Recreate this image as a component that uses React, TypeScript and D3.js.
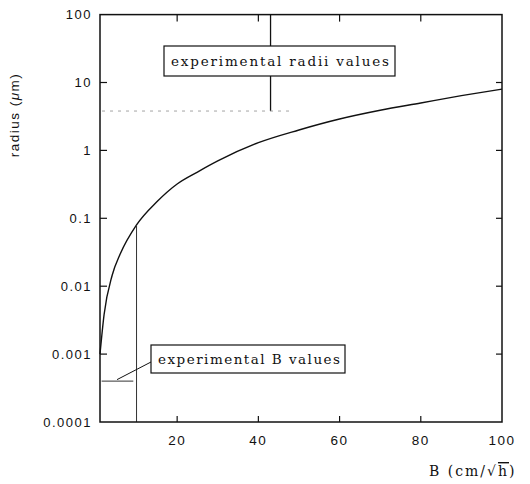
import React from "react";
import * as d3 from "d3";

const B_VALUES = [1, 2, 4, 6, 10, 15, 20, 25, 30, 40, 50, 60, 70, 80, 90, 100];
const RADIUS = [0.001, 0.0038, 0.0145, 0.03, 0.08, 0.175, 0.32, 0.48, 0.7, 1.3, 2.0, 2.9, 3.9, 5.0, 6.4, 8.0];

const X_TICKS = [20, 40, 60, 80, 100];
const X_INNER_TICKS = [20, 40, 60, 80];
const Y_TICKS = [100, 10, 1, 0.1, 0.01, 0.001, 0.0001];
const Y_TICK_LABELS = ["100", "10", "1", "0.1", "0.01", "0.001", "0.0001"];

// annotation values
const RADII_B = 43;
const RADII_LEVEL = 3.8;
const RADII_DASH_END = 48;
const B_EXP = 10;
const B_LEVEL = 0.0004;
const B_RANGE = [1.4, 9.2];
const B_LEADER_AT = 5.2;

const W = 530;
const H = 484;

export default function App() {
  const x = d3.scaleLinear().domain([1, 100]).range([100, 502]);
  const y = d3.scaleLog().domain([1e-4, 100]).range([422, 14.6]);

  const line = d3
    .line<number>()
    .x((d, i) => x(B_VALUES[i]))
    .y((d) => y(d))
    .curve(d3.curveMonotoneX);

  const curveAt = (b: number) => {
    const i = d3.bisectLeft(B_VALUES, b);
    if (B_VALUES[i] === b) return RADIUS[i];
    const b0 = B_VALUES[i - 1], b1 = B_VALUES[i];
    const t = (b - b0) / (b1 - b0);
    return Math.exp(Math.log(RADIUS[i - 1]) * (1 - t) + Math.log(RADIUS[i]) * t);
  };

  const x0 = x.range()[0], x1 = x.range()[1];
  const yTop = y.range()[1], yBot = y.range()[0];
  const ink = "#111";
  const tickFont = "'Liberation Sans', Arial, sans-serif";
  const boxFont = "'DejaVu Serif', 'Liberation Serif', serif";

  const rBox = { x: 164, y: 46, w: 231, h: 30 };
  const bBox = { x: 151, y: 345, w: 194, h: 28 };

  return (
    <svg
      width={W}
      height={H}
      style={{ position: "absolute", left: 0, top: 0, background: "#fff" }}
    >
      <rect x={0} y={0} width={W} height={H} fill="#fff" />

      {/* curve */}
      <path d={line(RADIUS) || ""} fill="none" stroke={ink} strokeWidth={1.4} />

      {/* experimental radii: vertical line and dashed level */}
      <line x1={x(RADII_B)} x2={x(RADII_B)} y1={yTop} y2={rBox.y} stroke={ink} strokeWidth={1.3} />
      <line x1={x(RADII_B)} x2={x(RADII_B)} y1={rBox.y + rBox.h} y2={y(RADII_LEVEL)} stroke={ink} strokeWidth={1.3} />
      <line
        x1={x(1.5)}
        x2={x(RADII_DASH_END)}
        y1={y(RADII_LEVEL)}
        y2={y(RADII_LEVEL)}
        stroke="#999"
        strokeWidth={0.9}
        strokeDasharray="3 5"
      />

      {/* experimental B: vertical line and level */}
      <line x1={x(B_EXP)} x2={x(B_EXP)} y1={yBot} y2={y(curveAt(B_EXP))} stroke="#333" strokeWidth={1} />
      <line x1={x(B_RANGE[0])} x2={x(B_RANGE[1])} y1={y(B_LEVEL)} y2={y(B_LEVEL)} stroke="#333" strokeWidth={1} />
      <line x1={bBox.x} y1={bBox.y + 17} x2={x(B_LEADER_AT)} y2={y(B_LEVEL) - 1.5} stroke={ink} strokeWidth={1} />

      {/* boxes */}
      <rect x={rBox.x} y={rBox.y} width={rBox.w} height={rBox.h} fill="#fff" stroke={ink} strokeWidth={1.2} />
      <text
        x={rBox.x + 7}
        y={rBox.y + 20}
        fontFamily={boxFont}
        fontSize={13.5}
        textLength={218}
        lengthAdjust="spacing"
        fill={ink}
      >
        experimental radii values
      </text>
      <rect x={bBox.x} y={bBox.y} width={bBox.w} height={bBox.h} fill="#fff" stroke={ink} strokeWidth={1.2} />
      <text
        x={bBox.x + 7}
        y={bBox.y + 19}
        fontFamily={boxFont}
        fontSize={13.5}
        textLength={182}
        lengthAdjust="spacing"
        fill={ink}
      >
        experimental B values
      </text>

      {/* frame */}
      <rect x={x0} y={yTop} width={x1 - x0} height={yBot - yTop} fill="none" stroke={ink} strokeWidth={1.5} />

      {/* x ticks (inward bottom and top) */}
      {X_INNER_TICKS.map((t) => (
        <g key={"xt" + t}>
          <line x1={x(t)} x2={x(t)} y1={yBot} y2={yBot - 6} stroke={ink} strokeWidth={1.2} />
          <line x1={x(t)} x2={x(t)} y1={yTop} y2={yTop + 7} stroke={ink} strokeWidth={1.2} />
        </g>
      ))}
      {X_TICKS.map((t) => (
        <text
          key={"xl" + t}
          x={x(t)}
          y={445}
          textAnchor="middle"
          fontFamily={tickFont}
          fontSize={13.5}
          letterSpacing={1.5}
          fill={ink}
        >
          {String(t)}
        </text>
      ))}

      {/* y ticks (inward left and right) */}
      {Y_TICKS.map((t, i) => (
        <g key={"yt" + t}>
          {i > 0 && i < Y_TICKS.length - 1 && (
            <>
              <line x1={x0} x2={x0 + 7} y1={y(t)} y2={y(t)} stroke={ink} strokeWidth={1.2} />
              <line x1={x1} x2={x1 - 6} y1={y(t)} y2={y(t)} stroke={ink} strokeWidth={1.2} />
            </>
          )}
          <text
            x={92}
            y={y(t)}
            dy="0.35em"
            textAnchor="end"
            fontFamily={tickFont}
            fontSize={13}
            letterSpacing={1.5}
            fill={ink}
          >
            {Y_TICK_LABELS[i]}
          </text>
        </g>
      ))}

      {/* axis titles */}
      <text
        transform={`translate(19,${115}) rotate(-90)`}
        textAnchor="middle"
        fontFamily={tickFont}
        fontSize={13.5}
        letterSpacing={1.5}
        fill={ink}
      >
        radius (<tspan fontStyle="italic">μ</tspan>m)
      </text>
      <text
        x={429}
        y={476}
        fontFamily={boxFont}
        fontSize={14}
        letterSpacing={2}
        fill={ink}
      >
        B (cm/√<tspan style={{ textDecoration: "overline" }}>h</tspan>)
      </text>
    </svg>
  );
}
